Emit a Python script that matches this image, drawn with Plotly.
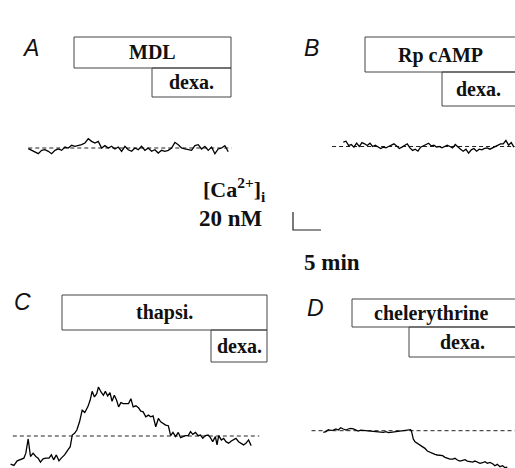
import plotly.graph_objects as go

W, H = 515, 468
PX_PER_MIN = 5.6   # 28 px = 5 min
PX_PER_NM = 0.9    # 18 px = 20 nM

# ---------------- data (time in min, delta [Ca2+]i in nM vs baseline) ----------------
DT_A = 0.595
CA_A = [-0.7, -2.6, -4.8, -6.3, -2.6, -1.9, -3.7, -6.3, -2.6, -1.1, -2.6, 1.1, 0.0, 3.0, 1.9,
        2.6, 3.7, 5.6, 10.4, 7.4, 5.6, 7.4, 0.0, 2.6, 0.0, 1.9, -1.1, 1.1, -3.7, 1.9, -1.9,
        -3.7, 0.0, -1.9, 1.9, -2.6, 0.0, -3.7, -1.9, -5.6, -2.6, -3.7, -2.6, 0.0, 6.3, 3.7,
        0.0, -1.1, -1.9, -2.6, 2.6, 3.7, -1.1, 1.9, -2.6, 1.1, -6.3, -1.1, 0.0, 2.6, -4.1]
BASE_A = [0.0, 36.3]

DT_B = 0.476
CA_B = [4.8, 5.9, 1.1, 2.2, -0.7, 3.7, 0.0, 4.4, 3.0, 1.1, 3.7, 0.0, 1.5, -0.7, -2.2, -0.7,
        -1.5, 0.0, 1.5, 3.0, 0.7, -2.2, -0.7, 1.5, 3.0, -1.5, -4.4, -3.0, -5.2, -0.7, 0.7,
        2.2, 3.7, 0.7, 1.5, -0.7, 0.0, -1.5, 0.0, 1.5, 0.0, -1.5, 2.2, -0.7, -3.0, -5.2,
        -3.0, -7.4, -3.7, -2.2, -5.2, -3.0, -3.7, -2.2, -1.5, -3.0, -1.5, 0.0, 2.2, 3.0,
        3.0, 6.7, 1.5, 4.4, -0.7]
BASE_B = [-2.0, 30.6]

T_C = [0.00, 0.59, 1.18, 1.78, 2.37, 2.72, 3.14, 3.55, 4.02, 4.50, 4.91, 5.33, 5.80, 6.27,
       6.86, 7.28, 7.69, 8.17, 8.64, 9.05, 9.64, 10.24, 10.65, 11.01, 11.42, 11.83, 12.31,
       12.78, 13.25, 13.79, 14.20, 14.56, 14.97, 15.38, 15.68, 16.15, 16.57, 16.92, 17.34,
       17.75, 18.11, 18.52, 18.93, 19.29, 19.70, 20.12, 20.59, 21.07, 21.48, 21.89, 22.37,
       22.84, 23.25, 23.67, 24.14, 24.62, 25.03, 25.44, 25.92, 26.39, 26.80, 27.22, 27.69,
       28.17, 28.58, 28.99, 29.47, 29.94, 30.36, 30.77, 31.24, 31.72, 32.13, 32.54, 33.02,
       33.49, 33.91, 34.32, 34.79, 35.27, 35.68, 36.09, 36.57, 36.86, 37.16, 37.63, 38.05,
       38.46, 38.93, 39.41, 39.82, 40.24, 40.71, 41.18, 41.60, 42.01, 42.49, 42.96]
CA_C = [-31.3, -32.7, -27.6, -26.5, -24.6, -19.1, -3.3, -22.8, -19.1, -22.8, -24.6, -29.0,
        -25.4, -24.6, -24.6, -21.0, -26.5, -21.0, -27.6, -24.6, -21.0, -15.4, -11.8, 1.1,
        2.9, 6.6, 15.8, 28.7, 26.1, 32.4, 39.7, 49.6, 43.4, 47.1, 54.4, 48.9, 45.2, 49.6,
        44.5, 48.2, 38.6, 45.2, 39.7, 32.4, 37.1, 36.0, 36.0, 36.0, 41.5, 32.4, 33.5, 31.3,
        27.6, 26.8, 21.3, 23.2, 21.3, 22.4, 10.3, 19.5, 15.8, 14.0, 12.1, 11.4, 0.4, 4.0,
        -0.7, 4.0, -1.8, -0.7, 0.4, 0.4, 4.8, 1.8, 4.0, 0.4, 1.1, -2.6, 0.4, 1.1, -1.8,
        -6.3, -0.7, -9.9, 0.4, -4.4, -2.6, -6.3, -8.1, -5.5, -4.4, -2.6, -6.3, -8.1, -9.9,
        -8.1, -4.4, -10.7]
BASE_C = [0.4, 44.4]

T_D = [0.00, 0.48, 0.89, 1.31, 1.79, 2.26, 2.68, 3.10, 3.57, 4.05, 4.46, 4.88, 5.36, 5.83,
       6.25, 6.67, 7.14, 7.62, 8.04, 8.45, 8.93, 9.40, 9.82, 10.24, 10.71, 11.19, 11.61,
       12.02, 12.50, 13.10, 13.57, 13.99, 14.40, 14.88, 15.36, 15.60, 15.77, 16.07, 16.37,
       16.79, 17.26, 17.74, 18.15, 18.57, 19.05, 19.52, 19.94, 20.36, 20.83, 21.31, 21.73,
       22.14, 22.62, 23.10, 23.51, 23.93, 24.40, 24.88, 25.30, 25.71, 26.19, 26.67, 27.08,
       27.50, 27.98, 28.45, 28.87, 29.29, 29.76, 30.24, 30.65, 31.07, 31.55, 32.02, 32.44,
       32.86]
CA_D = [-1.9, -1.1, 1.1, 0.4, 0.7, 1.9, 0.7, 3.3, 1.9, 0.7, 1.9, 2.6, 1.9, 0.7, -0.4, 0.7,
        0.4, -0.4, 0.0, -0.4, -1.1, -0.7, -1.1, -1.5, -1.9, -1.1, -2.2, -1.9, -1.5, -1.1,
        -0.7, -0.4, 0.0, 0.4, 0.7, 1.1, -1.1, -9.3, -12.2, -14.1, -15.9, -17.8, -19.6, -22.6,
        -24.1, -25.2, -26.3, -27.0, -27.0, -27.8, -29.6, -30.7, -31.5, -31.5, -30.7, -32.6,
        -33.7, -32.9, -32.2, -33.7, -34.4, -34.8, -33.7, -35.2, -36.3, -35.6, -34.4, -36.3,
        -35.2, -36.7, -38.9, -37.4, -40.0, -38.9, -41.1, -40.4]
BASE_D = [-2.1, 34.2]

SCALE_MIN = 5      # horizontal scale bar
SCALE_NM = 20      # vertical scale bar

PANEL_LETTERS = ["A", "B", "C", "D"]
DRUG_LABELS = ["MDL", "Rp cAMP", "thapsi.", "chelerythrine"]
DEXA_LABEL = "dexa."

# ---------------- layout helpers ----------------
def px(x):
    return x / W

def py(y):
    return 1 - y / H

fig = go.Figure()

# panels: (origin px, box px [x0, x1, y0, y1])
panels = [
    ((28.3, 148.0), (0, 257, 110, 185)),
    ((343.3, 146.5), (258, 515, 110, 185)),
    ((10.6, 436.0), (0, 270, 370, 468)),
    ((323.3, 430.7), (290, 515, 380, 468)),
    ((293.0, 230.0), (280, 335, 205, 240)),   # scale bar
]

for i, ((ox, oy), (x0, x1, y0, y1)) in enumerate(panels):
    n = "" if i == 0 else str(i + 1)
    xr = [(x0 - ox) / PX_PER_MIN, (x1 - ox) / PX_PER_MIN]
    yr = [(oy - y1) / PX_PER_NM, (oy - y0) / PX_PER_NM]
    fig.layout["xaxis" + n] = dict(domain=[px(x0), px(x1)], range=xr, visible=False,
                                   anchor="y" + n, fixedrange=True)
    fig.layout["yaxis" + n] = dict(domain=[py(y1), py(y0)], range=yr, visible=False,
                                   anchor="x" + n, fixedrange=True)

traces = [
    ([k * DT_A for k in range(len(CA_A))], CA_A, BASE_A),
    ([k * DT_B for k in range(len(CA_B))], CA_B, BASE_B),
    (T_C, CA_C, BASE_C),
    (T_D, CA_D, BASE_D),
]
for i, (t, v, base) in enumerate(traces):
    n = "" if i == 0 else str(i + 1)
    fig.add_trace(go.Scatter(x=base, y=[0, 0], mode="lines", xaxis="x" + n, yaxis="y" + n,
                             line=dict(color="#222222", width=1, dash="4px,3px"),
                             hoverinfo="skip", showlegend=False))
    fig.add_trace(go.Scatter(x=t, y=v, mode="lines", xaxis="x" + n, yaxis="y" + n,
                             line=dict(color="#000000", width=1.3),
                             hoverinfo="skip", showlegend=False))

# scale bar
fig.add_trace(go.Scatter(x=[0, 0, SCALE_MIN], y=[SCALE_NM, 0, 0], mode="lines",
                         xaxis="x5", yaxis="y5", line=dict(color="#222222", width=1.2),
                         hoverinfo="skip", showlegend=False))

# drug boxes (px): drug box, dexa box
boxes = [
    ((74, 231, 37, 68), (152, 231, 68, 97)),
    ((365, 520, 37, 72), (442, 520, 72, 106)),
    ((62, 267, 295, 330), (211, 267, 330, 362)),
    ((352, 520, 299, 327), (409, 520, 327, 357)),
]
letter_pos = [(30, 48), (311, 48), (22, 302), (315, 308)]
drug_text_pos = [(152, 52), (440, 55), (164, 312), (431, 313)]
dexa_text_pos = [(191, 82), (478, 89), (239, 346), (462, 342)]

annotations = []
shapes = []
for i in range(4):
    for (bx0, bx1, by0, by1) in boxes[i]:
        shapes.append(dict(type="rect", xref="paper", yref="paper",
                           x0=px(bx0), x1=px(bx1), y0=py(by1), y1=py(by0),
                           line=dict(color="#444444", width=1), fillcolor="rgba(0,0,0,0)"))
    lx, ly = letter_pos[i]
    annotations.append(dict(x=px(lx), y=py(ly), xref="paper", yref="paper",
                            text="<i>" + PANEL_LETTERS[i] + "</i>", showarrow=False,
                            font=dict(family="Liberation Sans", size=23, color="#111111"),
                            xanchor="center", yanchor="middle"))
    dx, dy = drug_text_pos[i]
    annotations.append(dict(x=px(dx), y=py(dy), xref="paper", yref="paper",
                            text="<b>" + DRUG_LABELS[i] + "</b>", showarrow=False,
                            font=dict(family="Liberation Serif", size=20, color="#111111"),
                            xanchor="center", yanchor="middle"))
    ex, ey = dexa_text_pos[i]
    annotations.append(dict(x=px(ex), y=py(ey), xref="paper", yref="paper",
                            text="<b>" + DEXA_LABEL + "</b>", showarrow=False,
                            font=dict(family="Liberation Serif", size=20, color="#111111"),
                            xanchor="center", yanchor="middle"))

annotations.append(dict(x=px(234), y=py(189), xref="paper", yref="paper",
                        text="<b>[Ca<sup>2+</sup>]<sub>i</sub></b>", showarrow=False,
                        font=dict(family="Liberation Serif", size=22, color="#111111"),
                        xanchor="center", yanchor="middle"))
annotations.append(dict(x=px(231), y=py(218), xref="paper", yref="paper",
                        text="<b>%d nM</b>" % SCALE_NM, showarrow=False,
                        font=dict(family="Liberation Serif", size=23, color="#111111"),
                        xanchor="center", yanchor="middle"))
annotations.append(dict(x=px(332), y=py(262), xref="paper", yref="paper",
                        text="<b>%d min</b>" % SCALE_MIN, showarrow=False,
                        font=dict(family="Liberation Serif", size=23, color="#111111"),
                        xanchor="center", yanchor="middle"))

fig.update_layout(width=W, height=H, margin=dict(l=0, r=0, t=0, b=0),
                  paper_bgcolor="white", plot_bgcolor="white",
                  shapes=shapes, annotations=annotations, showlegend=False)

fig.write_html("out.html", config={"displayModeBar": False},
               post_script="document.body.style.margin='0';document.body.style.overflow='hidden';")
